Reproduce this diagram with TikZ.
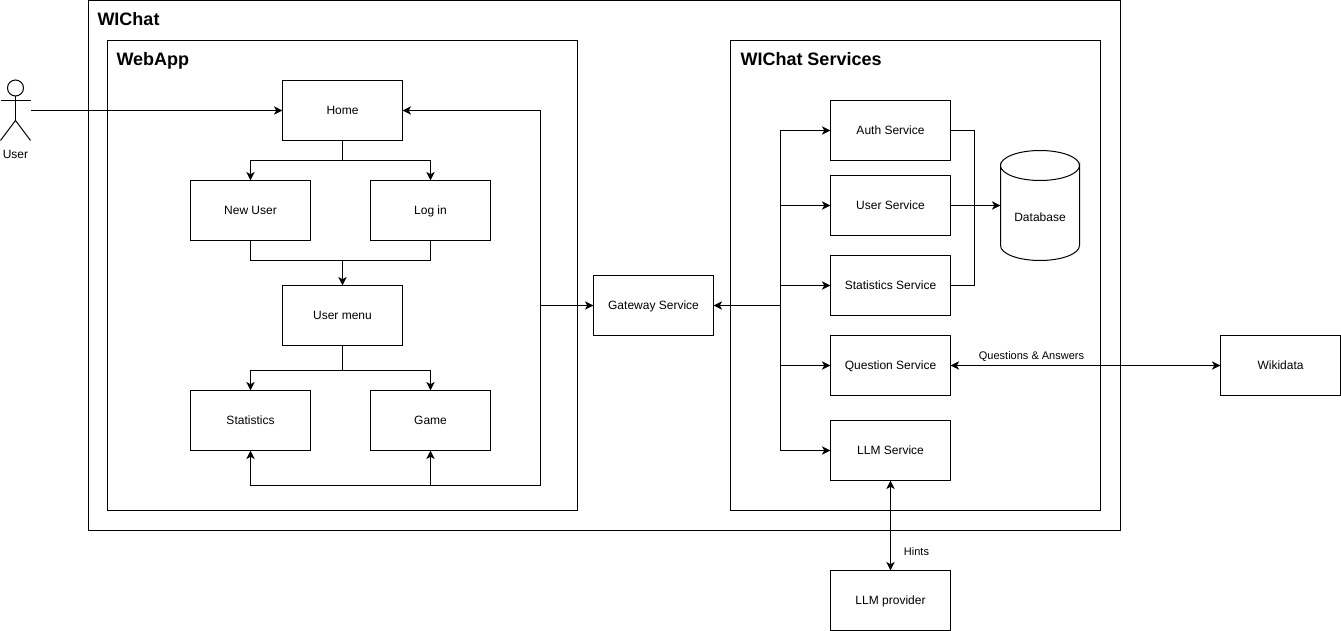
\documentclass[tikz,border=0pt]{standalone}
\usepackage{fontspec}
\setmainfont{Liberation Sans}
\usetikzlibrary{arrows.meta}
\tikzset{
  x=0.75pt,y=-0.75pt,
  every path/.append style={line width=0.75pt},
  frame/.style={draw=black,fill=none,inner sep=0pt,outer sep=0pt},
  svc/.style={frame,minimum width=90pt,minimum height=45pt,text height=6.5pt,text depth=0pt,font=\fontsize{9}{11}\selectfont},
  ttl/.style={anchor=west,inner sep=0pt,text height=9.7pt,text depth=0pt,font=\fontsize{13.5}{16}\selectfont\bfseries},
  small/.style={inner sep=0pt,text height=6pt,text depth=0pt,font=\fontsize{8.25}{10}\selectfont},
  arr/.style={-{Stealth[length=6.4pt,width=6.2pt,inset=1.7pt]}},
  biarr/.style={{Stealth[length=6.4pt,width=6.2pt,inset=1.7pt]}-{Stealth[length=6.4pt,width=6.2pt,inset=1.7pt]}},
}
\begin{document}
\begin{tikzpicture}
\useasboundingbox (0,0) rectangle (1341,631);
% frames
\node[frame,minimum width=774pt,minimum height=397.5pt] (wichat) at (604.5,265.5) {};
\node[frame,minimum width=352.5pt,minimum height=352.5pt] (webapp) at (342.5,275.5) {};
\node[frame,minimum width=277.5pt,minimum height=352.5pt] (services) at (915.5,275.5) {};
\node[ttl] (t1) at (97,19.5) {WIChat};
\node[ttl] (t2) at (116,59.5) {WebApp};
\node[ttl] (t3) at (740,59.5) {WIChat Services};
% web app
\node[svc] (home) at (342.5,110.5) {Home};
\node[svc] (newuser) at (250.5,210.5) {New User};
\node[svc] (login) at (430.5,210.5) {Log in};
\node[svc] (menu) at (342.5,315.5) {User menu};
\node[svc] (stats) at (250.5,420.5) {Statistics};
\node[svc] (game) at (430.5,420.5) {Game};
% gateway
\node[svc] (gateway) at (653.5,305.5) {Gateway Service};
% services
\node[svc] (auth) at (890.5,130.5) {Auth Service};
\node[svc] (usersvc) at (890.5,205.5) {User Service};
\node[svc] (statsvc) at (890.5,285.5) {Statistics Service};
\node[svc] (question) at (890.5,365.5) {Question Service};
\node[svc] (llm) at (890.5,450.5) {LLM Service};
\node[svc] (provider) at (890.5,600.5) {LLM provider};
\node[svc] (wikidata) at (1280.5,365.5) {Wikidata};
% database
\draw (1000.5,165.5) arc[start angle=180,end angle=0,x radius=39.5,y radius=15]
      -- (1079.5,245.5) arc[start angle=0,end angle=180,x radius=39.5,y radius=15] -- cycle;
\draw (1000.5,165.5) arc[start angle=180,end angle=360,x radius=39.5,y radius=15];
\node[inner sep=0pt,text height=6.5pt,text depth=0pt,font=\fontsize{9}{11}\selectfont] (db) at (1040,217.5) {Database};
% actor
\coordinate (head) at (15.5,88);
\draw (head) circle[radius=8];
\coordinate (neck) at (15.5,96);
\coordinate (hip) at (15.5,120.5);
\coordinate (armL) at (0.5,100.5);
\coordinate (armR) at (30.5,100.5);
\coordinate (footL) at (0.5,140.5);
\coordinate (footR) at (30.5,140.5);
\draw (neck) -- (hip);
\draw (armL) -- (armR);
\draw (footL) -- (hip) -- (footR);
\node[inner sep=0pt,text height=6.5pt,text depth=0pt,font=\fontsize{9}{11}\selectfont] (user) at (15.5,153.7) {User};
\coordinate (userout) at (30.5,110.5);
% connectors
\draw[arr] (userout) -- (home.west);
\coordinate (j1) at (342.5,160.5);
\draw[arr] (home.south) -- (j1) -| (newuser.north);
\draw[arr] (j1) -| (login.north);
\coordinate (j2) at (342.5,260.5);
\draw (newuser.south) |- (j2);
\draw (login.south) |- (j2);
\draw[arr] (j2) -- (menu.north);
\coordinate (j3) at (342.5,370.5);
\draw[arr] (menu.south) -- (j3) -| (stats.north);
\draw[arr] (j3) -| (game.north);
\coordinate (tr) at (540.5,305.5);
\coordinate (trb) at (540.5,485.5);
\coordinate (trg) at (430.5,485.5);
\draw[arr] (tr) -- (gateway.west);
\draw[arr] (tr) |- (home.east);
\draw[arr] (tr) -- (trb) -| (stats.south);
\draw[arr] (trg) -- (game.south);
\coordinate (sv) at (780.5,305.5);
\draw[arr] (sv) -- (gateway.east);
\draw[arr] (sv) |- (auth.west);
\draw[arr] (sv) |- (usersvc.west);
\draw[arr] (sv) |- (statsvc.west);
\draw[arr] (sv) |- (question.west);
\draw[arr] (sv) |- (llm.west);
\coordinate (dbin) at (1000.5,205.5);
\coordinate (dbj) at (974.5,205.5);
\draw[arr] (usersvc.east) -- (dbin);
\draw (auth.east) -| (dbj);
\draw (statsvc.east) -| (dbj);
\draw[biarr] (question.east) -- (wikidata.west);
\draw[biarr] (llm.south) -- (provider.north);
\node[small] (qa) at (1031.5,355) {Questions \& Answers};
\node[small] (hints) at (916.5,551) {Hints};
\end{tikzpicture}
\end{document}
